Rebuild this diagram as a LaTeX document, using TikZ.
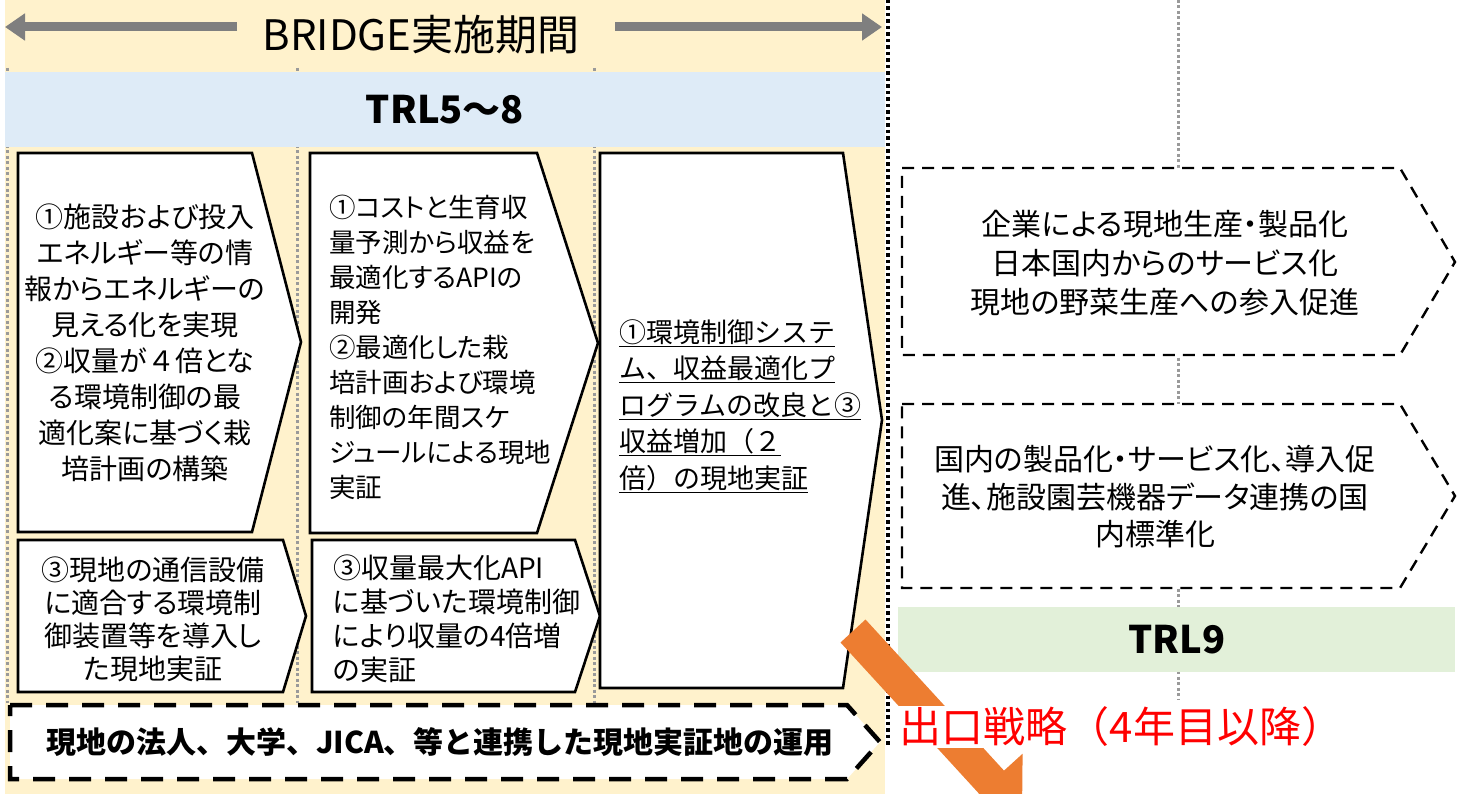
\documentclass[tikz,border=0pt]{standalone}
\usepackage{fontspec}
\setmainfont{Noto Sans CJK JP}
\newfontfamily\pf{Noto Sans CJK JP}[RawFeature=+palt]
\usetikzlibrary{arrows.meta}
\definecolor{beige}{HTML}{FFF2CC}
\definecolor{trlblue}{HTML}{DEEBF7}
\definecolor{trlgreen}{HTML}{E2F0D9}
\definecolor{arrgray}{HTML}{7F7F7F}
\definecolor{dotgray}{HTML}{9A9A9A}
\definecolor{exitorange}{HTML}{ED7D31}
\definecolor{exitred}{HTML}{FF0000}
\newcommand{\fsz}[2]{\fontsize{#1}{#2}\selectfont}
\begin{document}
\begin{tikzpicture}[x=1pt,y=-1pt,
  gdot/.style={draw=dotgray, line width=3pt, dash pattern=on 3pt off 2.5pt},
  bdot/.style={draw=black, line width=3.5pt, dash pattern=on 3.5pt off 3pt},
  stepshape/.style={draw=black, line width=2.6pt, fill=white, line join=miter},
  boxtext/.style={inner sep=0pt, text=black},
  outbox/.style={draw=black, line width=2.4pt, dash pattern=on 12pt off 8pt, fill=white},
  opbox/.style={draw=black, line width=4.5pt, dash pattern=on 22pt off 14pt, fill=white},
  bandtext/.style={inner sep=0pt, font=\fsz{38}{40}\bfseries},
  grayarrow/.style={draw=arrgray, line width=9pt, -{Triangle[length=20pt,width=26pt]}}
]
\useasboundingbox (0,0) rectangle (1467,794);
\clip (0,0) rectangle (1467,794);

% left background
\fill[beige] (5,0) rectangle (885,794);

% column separators
\draw[gdot] (7,68) -- (7,703);
\draw[gdot] (297,68) -- (297,703);
\draw[gdot] (594,68) -- (594,703);

% TRL5-8 band
\fill[trlblue] (5,72) rectangle (885,147);
\node[bandtext] (trl58) at (445,110) {TRL5～8};

% title and period arrows
\node[inner sep=0pt, font=\fsz{42}{46}] (title) at (421,35) {BRIDGE実施期間};
\coordinate (lstart) at (237,27);
\coordinate (ltip) at (5,27);
\coordinate (rstart) at (615,27);
\coordinate (rtip) at (882,27);
\draw[grayarrow] (lstart) -- (ltip);
\draw[grayarrow] (rstart) -- (rtip);

% vertical divider
\draw[bdot] (888,0) -- (888,745);

% step boxes
\draw[stepshape] (18,153) -- (252,153) -- (301,342) -- (252,532) -- (18,532) -- cycle;
\node[boxtext, align=center, font=\pf\fsz{28}{36}] (b1) at (145,343)
  {①施設および投入\\エネルギー等の情\\報からエネルギーの\\見える化を実現\\②収量が{\normalfont ４}倍とな\\る環境制御の最\\適化案に基づく栽\\培計画の構築};

\draw[stepshape] (310,153) -- (537,153) -- (598,343) -- (537,533) -- (310,533) -- cycle;
\node[boxtext, align=left, anchor=west, font=\pf\fsz{26.5}{35}] (b2) at (329,347)
  {①コストと生育収\\量予測から収益を\\最適化するAPIの\\開発\\②最適化した栽\\培計画および環境\\制御の年間スケ\\ジュールによる現地\\実証};

\draw[stepshape] (18,540) -- (283,540) -- (306,616) -- (283,692) -- (18,692) -- cycle;
\node[boxtext, align=center, font=\pf\fsz{28}{33}] (b1b) at (153,619)
  {③現地の通信設備\\に適合する環境制\\御装置等を導入し\\た現地実証};

\draw[stepshape] (312,540) -- (575,540) -- (600,616) -- (575,692) -- (312,692) -- cycle;
\node[boxtext, align=left, anchor=west, font=\pf\fsz{28}{34}] (b2b) at (333,619)
  {③収量最大化API\\に基づいた環境制御\\により収量の4倍増\\の実証};

\draw[stepshape] (600,153) -- (843,153) -- (882,420) -- (843,688) -- (600,688) -- cycle;
\node[boxtext, align=left, anchor=west, font=\fsz{27}{36.5}] (b3) at (619,406)
  {\underline{①環境制御システ}\\\underline{ム、収益最適化プ}\\\underline{ログラムの改良と③}\\\underline{収益増加（２}\\\underline{倍）の現地実証}};

% operation box
\draw[opbox] (10,705) -- (847,705) -- (880,742) -- (847,779) -- (10,779) -- cycle;
\node[boxtext, font=\fsz{30}{34}\bfseries] (op) at (440,742)
  {現地の法人、大学、JICA、等と連携した現地実証地の運用};

% right side
\draw[gdot] (1178,0) -- (1178,700);
\draw[outbox] (902,168) -- (1400,168) -- (1455,262) -- (1400,355) -- (902,355) -- cycle;
\node[boxtext, align=center, font=\pf\fsz{30}{39}] (ra) at (1165,263)
  {企業による現地生産・製品化\\日本国内からのサービス化\\現地の野菜生産への参入促進};
\draw[outbox] (902,404) -- (1400,404) -- (1455,496) -- (1400,588) -- (902,588) -- cycle;
\node[boxtext, align=center, font=\pf\fsz{30}{37.5}] (rb) at (1155,497)
  {国内の製品化・サービス化、導入促\\進、施設園芸機器データ連携の国\\内標準化};

\fill[trlgreen] (898,607) rectangle (1455,672);
\node[bandtext] (trl9) at (1177,640) {TRL9};

% exit strategy arrow
\fill[exitorange] (840.5,642.5) -- (865.5,619.5) -- (1004,770.6) -- (1022.6,753.7)
  -- (1022,815.3) -- (960.6,810.5) -- (979,793.6) -- cycle;
\node[fill=white, inner sep=1.5pt, anchor=west, text=exitred, font=\fsz{42}{46}] (exit) at (898,727)
  {出口戦略（4年目以降）};
\end{tikzpicture}
\end{document}
